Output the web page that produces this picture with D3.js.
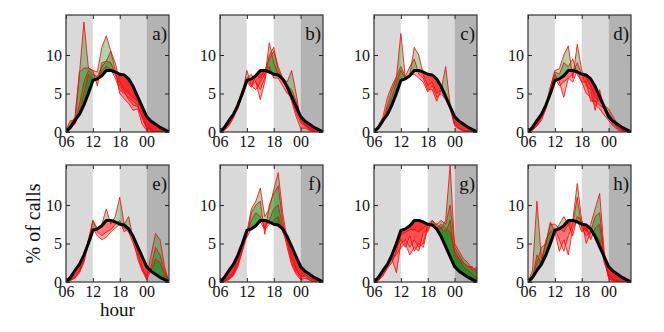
<!DOCTYPE html>
<html>
<head>
<meta charset="utf-8">
<script src="https://d3js.org/d3.v7.min.js"></script>
<style>
body { margin: 0; background: #fff; }
text { font-family: "Liberation Serif", "DejaVu Serif", serif; fill: #111; }
</style>
</head>
<body>
<script>
// hours of the day, 06 -> 05 next morning
var hours = d3.range(6, 30);
var xTickHours = [6, 12, 18, 24];
var xTickLabels = ["06", "12", "18", "00"];
var yTicks = [0, 5, 10];
var panelLabels = ["a)", "b)", "c)", "d)", "e)", "f)", "g)", "h)"];

// average profile (black line)
var avg = [0, 0.6, 1.5, 2.3, 3.5, 5.0, 6.7, 6.9, 7.3, 8.0, 8.0, 7.8, 7.5, 7.4, 6.9, 5.9, 4.6, 3.3, 2.0, 1.4, 1.0, 0.6, 0.3, 0.0];

// individual profiles per panel
var panelA = [
    [0.3, 1.5, 1.5, 7.5, 14.3, 8.3, 8.0, 6.0, 9.0, 9.2, 10.5, 8.0, 5.0, 4.3, 3.7, 2.8, 3.0, 1.0, 0.2, 0, 0, 0, 0, 0],
    [0.2, 1.0, 2.0, 7.8, 8.3, 8.3, 8.0, 7.8, 11.0, 12.5, 10.5, 9.0, 6.5, 5.5, 5.0, 4.5, 4.0, 2.5, 0.8, 0.3, 0.1, 0, 0, 0],
    [0, 0.8, 1.2, 3.5, 6.5, 8.0, 7.5, 7.2, 8.5, 9.2, 9.0, 7.5, 6.0, 5.2, 4.2, 3.5, 3.3, 2.0, 0.5, 0.2, 0, 0, 0, 0],
    [0, 0.5, 1.0, 2.5, 5.0, 7.5, 7.0, 6.8, 8.0, 8.5, 8.2, 7.0, 5.5, 5.0, 4.5, 4.0, 3.5, 1.8, 0.6, 0.2, 0, 0, 0, 0]
];
var panelB = [
    [0, 0.5, 1.0, 2.0, 3.5, 5.0, 8.0, 6.0, 6.5, 4.2, 6.5, 10.0, 11.0, 8.0, 7.0, 6.5, 8.0, 5.0, 1.5, 0.8, 0.5, 0.2, 0, 0],
    [0, 0.3, 1.2, 2.2, 3.8, 5.5, 7.0, 7.5, 6.5, 5.5, 7.0, 11.6, 9.0, 7.5, 6.5, 6.0, 5.5, 4.0, 2.0, 1.0, 0.4, 0.1, 0, 0],
    [0, 0.2, 0.8, 1.8, 3.5, 5.5, 6.5, 5.8, 7.5, 7.0, 8.0, 9.5, 10.5, 8.5, 7.0, 5.5, 4.0, 2.0, 0.5, 0.5, 0.2, 0, 0, 0],
    [0, 0.4, 1.0, 2.0, 3.0, 5.0, 6.8, 6.0, 5.5, 6.5, 7.5, 8.5, 7.0, 7.0, 6.0, 5.0, 4.5, 2.5, 1.2, 0.8, 0.3, 0.1, 0, 0]
];
var panelC = [
    [0, 0.5, 1.5, 3.5, 5.5, 7.0, 12.8, 7.0, 7.5, 11.0, 10.0, 7.5, 6.0, 6.5, 5.0, 5.5, 8.5, 3.5, 1.0, 0.5, 0.2, 0, 0, 0],
    [0, 0.8, 2.0, 4.5, 6.0, 7.2, 8.5, 7.2, 8.5, 9.5, 7.5, 7.0, 5.5, 5.5, 4.0, 5.5, 5.0, 3.0, 1.2, 0.5, 0.2, 0.1, 0, 0],
    [0, 0.4, 1.2, 3.0, 4.5, 6.5, 8.0, 7.0, 7.5, 7.5, 7.0, 6.5, 5.2, 6.0, 4.5, 5.0, 4.2, 3.0, 0.8, 0.4, 0.1, 0, 0, 0]
];
var panelD = [
    [0, 0.3, 1.0, 2.0, 3.5, 5.5, 8.0, 8.2, 10.0, 11.2, 7.0, 11.4, 8.0, 7.0, 6.0, 4.5, 4.0, 3.5, 3.0, 2.0, 1.0, 0.3, 0, 0],
    [0, 0.2, 0.8, 1.8, 3.2, 5.0, 7.5, 6.5, 4.5, 7.0, 7.5, 9.0, 7.5, 6.0, 5.5, 2.8, 5.5, 3.0, 2.5, 1.5, 0.5, 0.2, 0, 0],
    [0, 0.3, 0.8, 1.5, 3.0, 5.0, 7.0, 6.0, 6.5, 7.0, 6.5, 8.0, 6.5, 6.5, 4.0, 4.0, 3.5, 3.0, 2.0, 1.0, 0.6, 0.2, 0, 0],
    [0, 0.4, 1.2, 2.0, 3.5, 6.0, 7.8, 7.5, 9.0, 8.5, 9.5, 7.5, 6.5, 5.0, 4.5, 3.5, 3.0, 2.2, 1.5, 0.8, 0.3, 0, 0, 0]
];
var panelE = [
    [0, 0.3, 0.8, 1.5, 3.0, 5.5, 8.0, 7.0, 7.5, 9.5, 7.5, 8.5, 11.0, 7.5, 8.5, 5.5, 3.0, 1.5, 0.8, 3.5, 6.3, 5.5, 2.0, 0],
    [0, 0.2, 0.5, 1.2, 2.5, 5.0, 8.0, 6.5, 6.0, 6.5, 6.8, 7.5, 8.0, 6.5, 7.0, 6.0, 4.0, 2.0, 0.5, 2.0, 4.5, 3.5, 1.5, 0],
    [0, 0.2, 0.6, 1.3, 2.8, 5.5, 7.0, 6.0, 5.5, 5.8, 6.5, 7.0, 7.5, 7.0, 6.5, 5.0, 3.5, 1.5, 0.3, 1.5, 3.0, 2.5, 1.0, 0]
];
var panelF = [
    [0, 0.2, 0.5, 1.0, 2.5, 4.5, 6.5, 9.5, 10.5, 12.2, 8.5, 9.5, 12.0, 14.2, 9.0, 5.5, 3.0, 1.5, 0.8, 1.5, 0.8, 0.3, 0, 0],
    [0, 0.1, 0.3, 0.8, 2.0, 4.0, 6.0, 9.0, 10.0, 10.5, 6.2, 10.0, 11.5, 12.5, 8.0, 5.0, 2.5, 1.2, 0.5, 1.0, 0.5, 0.2, 0, 0],
    [0, 0.1, 0.4, 1.0, 2.2, 4.2, 6.3, 8.0, 9.0, 8.5, 7.0, 8.0, 9.5, 10.0, 7.0, 4.5, 2.2, 1.0, 0.3, 0.5, 0.3, 0, 0, 0],
    [0, 0.2, 0.6, 1.2, 3.0, 5.0, 5.8, 7.0, 7.5, 7.8, 6.8, 7.5, 8.0, 8.5, 6.5, 5.2, 3.5, 1.8, 0.6, 0.8, 0.2, 0, 0, 0]
];
var panelG = [
    [0, 0.3, 1.0, 2.0, 3.0, 1.2, 5.0, 5.5, 4.5, 5.5, 4.5, 5.0, 7.5, 8.0, 7.5, 7.0, 8.0, 15.2, 4.5, 3.5, 2.5, 2.0, 2.0, 1.0],
    [0, 0.5, 1.2, 2.2, 3.5, 4.5, 5.5, 4.5, 6.0, 4.0, 5.0, 4.5, 7.0, 7.5, 7.5, 8.0, 7.5, 10.0, 5.0, 4.0, 3.0, 2.5, 1.5, 2.0],
    [0, 0.4, 1.0, 2.0, 3.0, 3.5, 4.5, 5.0, 3.5, 4.5, 4.0, 6.5, 6.5, 8.0, 7.0, 7.5, 7.0, 6.5, 4.0, 3.0, 2.5, 2.0, 1.8, 1.5],
    [0, 0.2, 0.8, 1.8, 2.5, 4.0, 6.0, 6.5, 6.8, 6.8, 6.5, 7.0, 7.5, 7.5, 7.0, 7.0, 6.5, 8.0, 3.5, 3.0, 2.0, 1.5, 1.0, 0.5]
];
var panelH = [
    [0, 1.5, 10.5, 3.0, 5.0, 7.8, 6.5, 7.5, 8.5, 7.5, 8.0, 12.8, 8.0, 6.5, 7.5, 9.5, 11.5, 4.0, 0.8, 0.3, 0.1, 0, 0, 0],
    [0, 0.5, 3.5, 2.5, 5.5, 6.5, 7.0, 5.5, 4.0, 6.0, 7.5, 11.0, 7.0, 6.0, 6.5, 8.5, 9.0, 3.5, 0.5, 0.2, 0, 0, 0, 0],
    [0, 0.3, 1.5, 2.8, 3.8, 5.5, 6.5, 4.0, 5.5, 3.5, 7.0, 8.0, 6.5, 7.0, 5.5, 7.0, 7.5, 3.0, 0.5, 0, 0, 0, 0, 0],
    [0, 0.8, 2.5, 4.5, 5.0, 7.5, 7.5, 7.0, 6.5, 7.5, 6.0, 8.5, 8.0, 5.0, 6.5, 6.0, 5.5, 2.5, 1.0, 0.3, 0.1, 0, 0, 0]
];
var panels = [panelA, panelB, panelC, panelD, panelE, panelF, panelG, panelH];

// shaded parts of the day
var bandStarts = [6, 12, 18, 24];
var bandEnds = [12, 18, 24, 29];
var bandColors = ["#d9d9d9", "#ffffff", "#d9d9d9", "#b3b3b3"];

// layout
var pw = 103, ph = 117;
var lefts = [66, 220, 374, 528], tops = [15, 165];

var x = d3.scaleLinear().domain([6, 29]).range([0, pw]);
var y = d3.scaleLinear().domain([0, 15.2]).range([ph, 0]);

var svg = d3.select("body").append("svg")
    .attr("width", 664)
    .attr("height", 332);
var defs = svg.append("defs");

var line = d3.line()
    .x(function(d, j) { return x(hours[j]); })
    .y(function(d) { return y(d); });

var between = d3.area()
    .x(function(d, j) { return x(hours[j]); })
    .y0(function(d, j) { return y(avg[j]); })
    .y1(function(d) { return y(d); });

panels.forEach(function(series, i) {
    var g = svg.append("g")
        .attr("transform", "translate(" + lefts[i % 4] + "," + tops[Math.floor(i / 4)] + ")");

    // clip paths: plot box, region above the average, region below it
    defs.append("clipPath").attr("id", "box" + i)
        .append("rect").attr("width", pw).attr("height", ph);
    defs.append("clipPath").attr("id", "above" + i)
        .append("path")
        .attr("d", d3.area()
            .x(function(d, j) { return x(hours[j]); })
            .y0(function(d) { return y(d); })
            .y1(-5)(avg));
    defs.append("clipPath").attr("id", "below" + i)
        .append("path")
        .attr("d", d3.area()
            .x(function(d, j) { return x(hours[j]); })
            .y0(function(d) { return y(d); })
            .y1(ph + 5)(avg));

    // background bands
    bandStarts.forEach(function(b, k) {
        g.append("rect")
            .attr("x", x(b))
            .attr("width", x(bandEnds[k]) - x(b))
            .attr("y", 0)
            .attr("height", ph)
            .attr("fill", bandColors[k]);
    });

    var plot = g.append("g").attr("clip-path", "url(#box" + i + ")");

    series.forEach(function(s) {
        plot.append("g").attr("clip-path", "url(#above" + i + ")")
            .append("path")
            .attr("d", between(s))
            .attr("fill", "green")
            .attr("fill-opacity", 0.32);
        plot.append("g").attr("clip-path", "url(#below" + i + ")")
            .append("path")
            .attr("d", between(s))
            .attr("fill", "red")
            .attr("fill-opacity", 0.32);
    });

    series.forEach(function(s) {
        plot.append("path")
            .attr("d", line(s))
            .attr("fill", "none")
            .attr("stroke", "red")
            .attr("stroke-width", 0.8);
    });

    plot.append("path")
        .attr("d", line(avg))
        .attr("fill", "none")
        .attr("stroke", "#000")
        .attr("stroke-width", 3)
        .attr("stroke-linejoin", "round");

    // axes with inward ticks on all sides
    var xb = g.append("g")
        .attr("transform", "translate(0," + ph + ")")
        .call(d3.axisBottom(x).tickValues(xTickHours)
            .tickFormat(function(d, k) { return xTickLabels[k]; })
            .tickSizeInner(-4).tickSizeOuter(0).tickPadding(4));
    var xt = g.append("g")
        .call(d3.axisTop(x).tickValues(xTickHours).tickFormat("")
            .tickSizeInner(-4).tickSizeOuter(0));
    var yl = g.append("g")
        .call(d3.axisLeft(y).tickValues(yTicks)
            .tickSizeInner(-4).tickSizeOuter(0).tickPadding(4));
    var yr = g.append("g")
        .attr("transform", "translate(" + pw + ",0)")
        .call(d3.axisRight(y).tickValues(yTicks).tickFormat("")
            .tickSizeInner(-4).tickSizeOuter(0));

    [xb, xt, yl, yr].forEach(function(a) {
        a.select(".domain").remove();
        a.selectAll(".tick line").attr("stroke", "#222");
        a.selectAll("text")
            .style("font-family", "'Liberation Serif', 'DejaVu Serif', serif")
            .style("font-size", "16px")
            .attr("fill", "#111");
    });

    g.append("rect")
        .attr("width", pw)
        .attr("height", ph)
        .attr("fill", "none")
        .attr("stroke", "#333")
        .attr("stroke-width", 1.2);

    g.append("text")
        .attr("x", pw - 2)
        .attr("y", 25)
        .attr("text-anchor", "end")
        .style("font-size", "19px")
        .text(panelLabels[i]);

    if (i === 4) {
        g.append("text")
            .attr("x", pw / 2)
            .attr("y", ph + 34)
            .attr("text-anchor", "middle")
            .style("font-size", "19px")
            .text("hour");
        g.append("text")
            .attr("transform", "translate(-26," + (ph / 2) + ") rotate(-90)")
            .attr("text-anchor", "middle")
            .style("font-size", "20px")
            .text("% of calls");
    }
});
</script>
</body>
</html>
